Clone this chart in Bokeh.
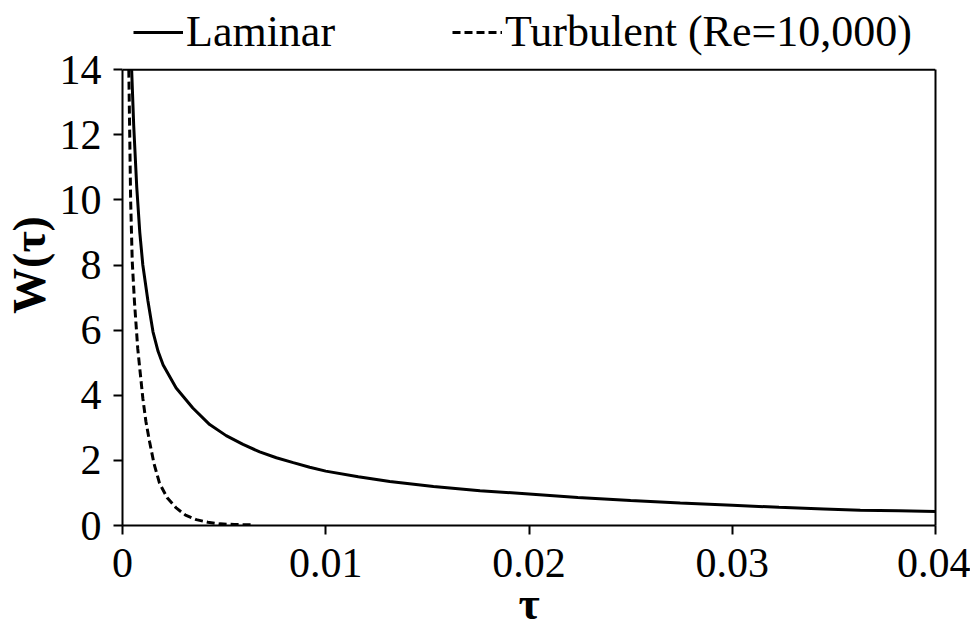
from bokeh.plotting import figure
from bokeh.models import Range1d, FixedTicker, Legend, LegendItem, LinearAxis, Span
from bokeh.embed import file_html
from bokeh.resources import INLINE

# Laminar curve (tau, W)
lam_tau = [0.00045, 0.00055, 0.00070, 0.00085, 0.00100, 0.00125, 0.00150, 0.00175,
           0.00200, 0.00264, 0.00346, 0.00429, 0.00510, 0.00593, 0.00675, 0.00757,
           0.00840, 0.00921, 0.01000, 0.01160, 0.01315, 0.01530, 0.01759, 0.02000,
           0.02240, 0.02500, 0.02744, 0.03000, 0.03230, 0.03450, 0.03630, 0.03820,
           0.04000]
lam_w = [14.0, 12.3, 10.4, 9.0, 8.0, 6.9, 5.95, 5.35,
         4.93, 4.22, 3.61, 3.10, 2.76, 2.49, 2.26, 2.08,
         1.93, 1.79, 1.67, 1.50, 1.35, 1.20, 1.07, 0.97,
         0.86, 0.77, 0.69, 0.62, 0.56, 0.51, 0.47, 0.45,
         0.43]

# Turbulent curve (Re = 10,000)
tur_tau = [0.00031, 0.00036, 0.00040, 0.00048, 0.00059, 0.00075, 0.00100, 0.00115,
           0.00133, 0.00155, 0.00182, 0.00220, 0.00264, 0.00310, 0.00363, 0.00420,
           0.00480, 0.00550, 0.00635]
tur_w = [14.0, 11.8, 10.0, 8.1, 6.86, 5.43, 3.91, 3.2,
         2.58, 1.9, 1.30, 0.85, 0.54, 0.32, 0.18, 0.10,
         0.05, 0.03, 0.02]

x_ticks = [0, 0.01, 0.02, 0.03, 0.04]
x_tick_labels = ["0", "0.01", "0.02", "0.03", "0.04"]
y_ticks = [0, 2, 4, 6, 8, 10, 12, 14]

SERIF = "Liberation Serif"
Y_TOP = 16.0  # extra room above the W=14 box for the legend

p = figure(width=970, height=631,
           min_border_left=115, min_border_right=35, min_border_top=4, min_border_bottom=104,
           x_range=Range1d(x_ticks[0], x_ticks[-1]), y_range=Range1d(0, Y_TOP),
           output_backend="svg", toolbar_location=None)

p.xgrid.visible = False
p.ygrid.visible = False
p.outline_line_color = None
p.background_fill_color = "white"
p.border_fill_color = "white"

r_lam = p.line(lam_tau, lam_w, line_color="black", line_width=3)
r_tur = p.line(tur_tau, tur_w, line_color="black", line_width=3, line_dash="8 4")

# box: top line at W=14 and right axis line
p.add_layout(Span(location=y_ticks[-1], dimension="width", line_color="black", line_width=2))
right_ax = LinearAxis(bounds=(y_ticks[0], y_ticks[-1]), ticker=FixedTicker(ticks=[]),
                      major_label_text_font_size="0px", axis_line_color="black",
                      axis_line_width=2, major_tick_line_color=None, minor_tick_line_color=None)
p.add_layout(right_ax, "right")

p.yaxis[0].bounds = (y_ticks[0], y_ticks[-1])

for ax in (p.xaxis[0], p.yaxis[0]):
    ax.axis_line_color = "black"
    ax.axis_line_width = 2
    ax.major_tick_line_color = "black"
    ax.major_tick_line_width = 2
    ax.major_tick_out = 9
    ax.major_tick_in = 0
    ax.minor_tick_line_color = None
    ax.major_label_text_font = SERIF
    ax.major_label_text_font_size = "42px"
    ax.major_label_text_color = "black"
    ax.axis_label_text_font = SERIF
    ax.axis_label_text_font_style = "bold"
    ax.axis_label_text_font_size = "46px"
    ax.axis_label_text_color = "black"

p.xaxis[0].ticker = FixedTicker(ticks=x_ticks)
p.xaxis[0].major_label_overrides = {t: lab for t, lab in zip(x_ticks, x_tick_labels)}
p.yaxis[0].ticker = FixedTicker(ticks=y_ticks)
p.xaxis[0].axis_label = "τ"
p.yaxis[0].axis_label = "W(τ)"
p.xaxis[0].axis_label_standoff = -2
p.yaxis[0].axis_label_standoff = 2
p.xaxis[0].major_label_standoff = 14
p.yaxis[0].major_label_standoff = 12

legend = Legend(items=[LegendItem(label="Laminar", renderers=[r_lam]),
                       LegendItem(label="Turbulent (Re=10,000)", renderers=[r_tur])],
                orientation="horizontal", location=(11, 468),
                glyph_width=50, glyph_height=20, label_standoff=3, label_width=266,
                spacing=0, padding=0, margin=0, border_line_color=None, background_fill_alpha=0,
                label_text_font=SERIF, label_text_font_size="44px", label_text_color="black")
p.add_layout(legend, "center")

open("out.html", "w").write(file_html(p, INLINE))
